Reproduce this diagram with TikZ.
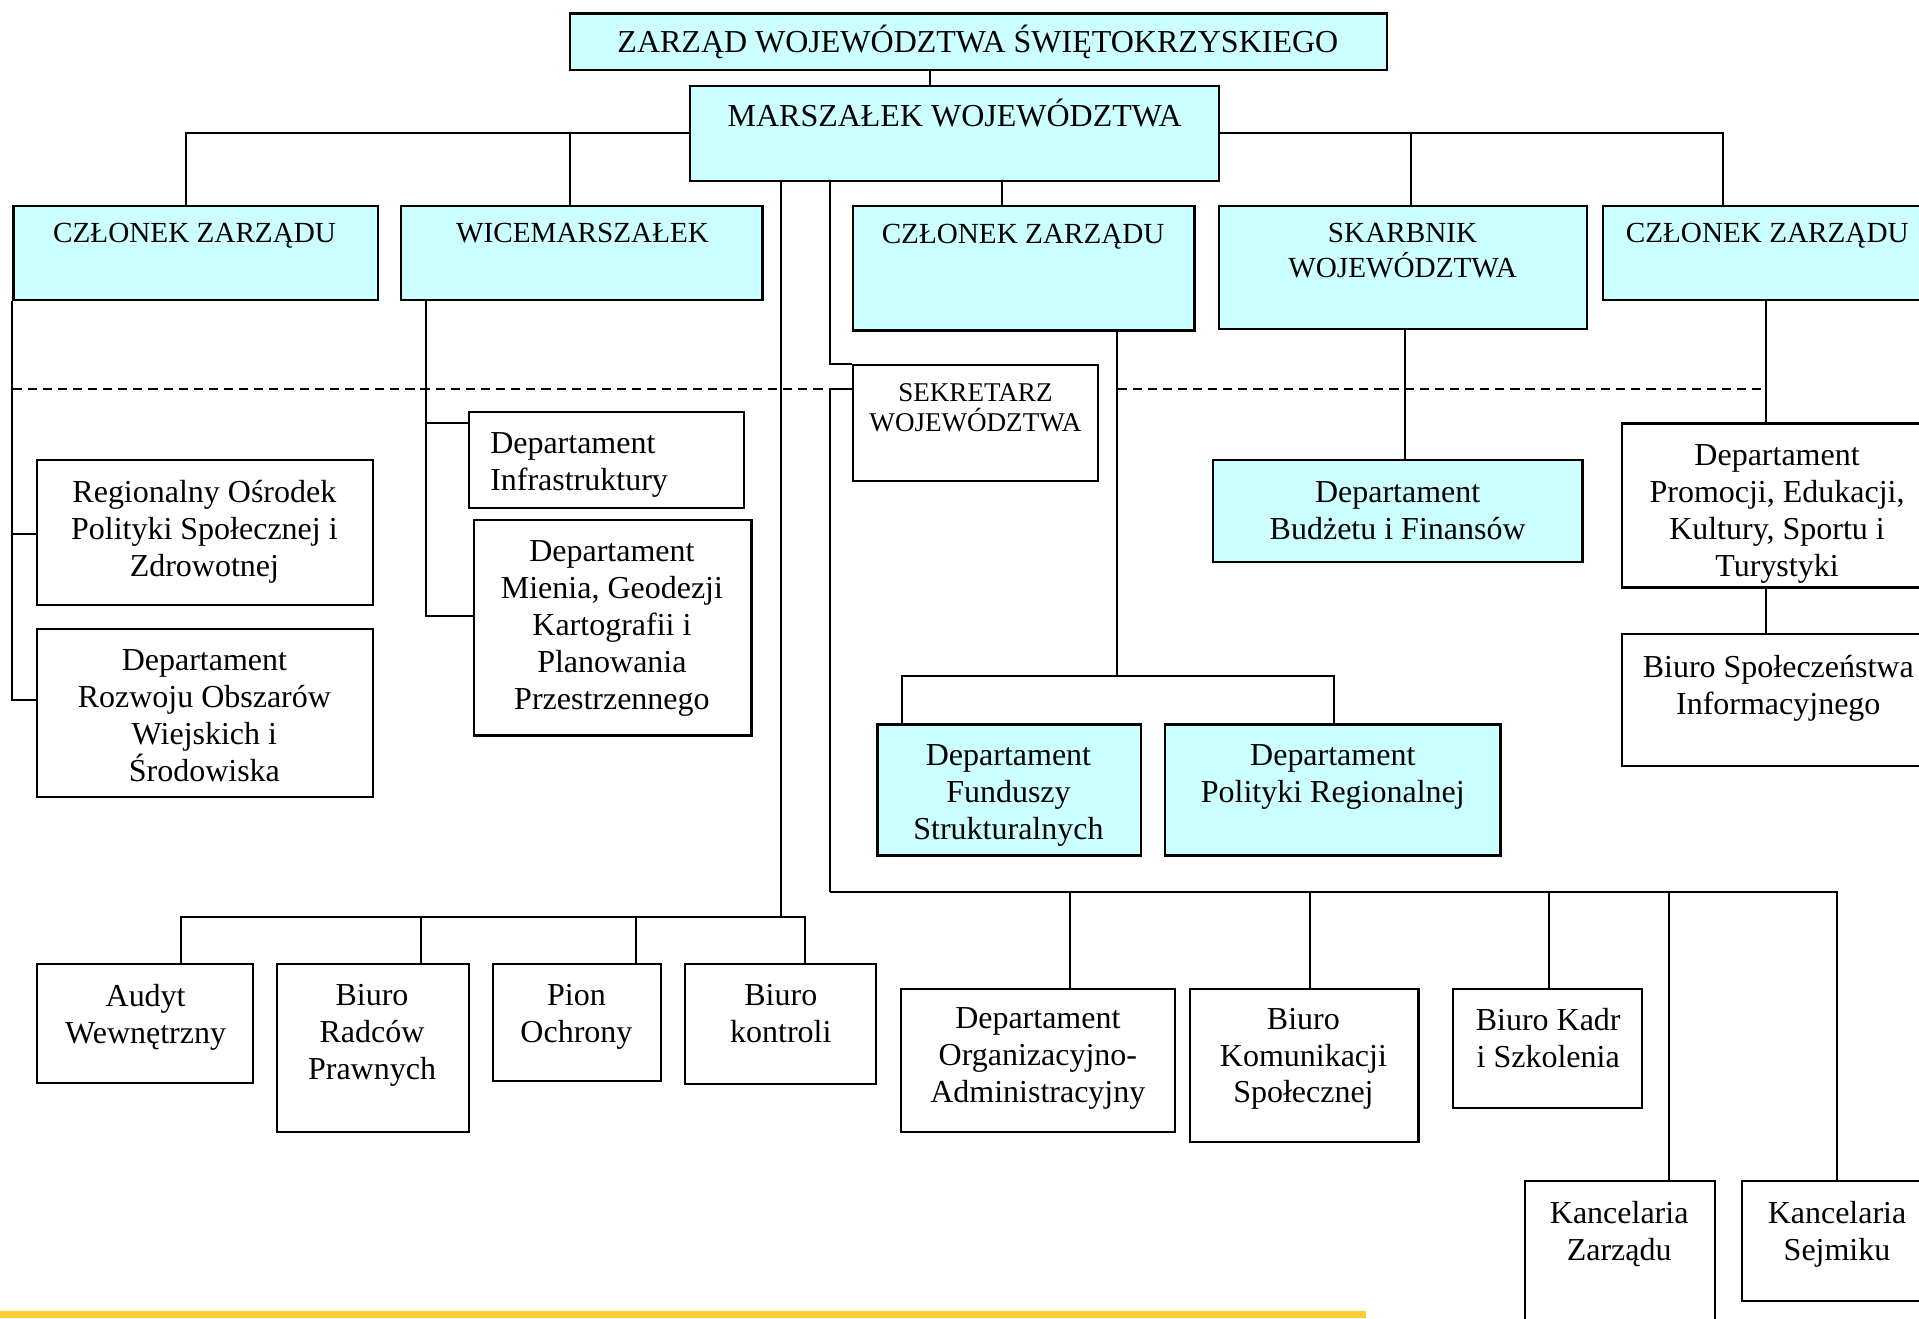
\documentclass[tikz,border=0pt]{standalone}
\usepackage{fontspec}
\setmainfont{Liberation Serif}
\usetikzlibrary{fit}

\definecolor{boxcyan}{HTML}{CCFFFF}
\definecolor{baryellow}{HTML}{FFCC33}

\newcommand{\mainsize}{\fontsize{9.1}{10.5}\selectfont}
\newcommand{\headsize}{\fontsize{8.3}{9.75}\selectfont}
\newcommand{\sekrsize}{\fontsize{7.7}{8.4}\selectfont}

\tikzset{
	cbox/.style={draw, fill=boxcyan, inner sep=0pt, line width=0.6pt},
	wbox/.style={draw, fill=white, inner sep=0pt, line width=0.6pt},
	txt/.style={anchor=north, align=center, inner sep=0pt, font=\mainsize},
	head/.style={txt, font=\headsize},
	link/.style={line width=0.55pt},
	sep/.style={line width=0.55pt, dash pattern=on 2.6pt off 1.7pt}
}

\begin{document}
\begin{tikzpicture}[x=0.012239cm, y=-0.012239cm]
			\path[use as bounding box, clip] (0,0) rectangle (1568,1077);

			% board and marshal
			\node[cbox, fit={(466,11) (1133,57)}] (zarzad) {};
			\node[cbox, fit={(564,70) (996,148)}] (marsz) {};
			\node[cbox, fit={(11,168) (309,245)}] (czl1) {};
			\node[cbox, fit={(328,168) (623,245)}] (wice) {};
			\node[cbox, fit={(697,168) (976,270)}] (czl2) {};
			\node[cbox, fit={(996,168) (1297,269)}] (skarb) {};
			\node[cbox, fit={(1310,168) (1580,245)}] (czl3) {};
			\node[wbox, fit={(697,298) (897,393)}] (sekr) {};

			% departments
			\node[wbox, fit={(30,376) (305,494)}] (rops) {};
			\node[wbox, fit={(30,514) (305,651)}] (rozw) {};
			\node[wbox, fit={(383,337) (608,415)}] (infra) {};
			\node[wbox, fit={(387,425) (614,601)}] (mienie) {};
			\node[cbox, fit={(991,376) (1293,459)}] (budz) {};
			\node[wbox, fit={(1325,346) (1580,480)}] (promo) {};
			\node[wbox, fit={(1325,518) (1580,626)}] (bspol) {};
			\node[cbox, fit={(717,592) (932,699)}] (fund) {};
			\node[cbox, fit={(952,592) (1226,699)}] (polreg) {};

			% offices
			\node[wbox, fit={(30,788) (207,885)}] (audyt) {};
			\node[wbox, fit={(226,788) (383,925)}] (radcy) {};
			\node[wbox, fit={(403,788) (540,883)}] (pion) {};
			\node[wbox, fit={(560,788) (716,886)}] (kontr) {};
			\node[wbox, fit={(736,808) (960,925)}] (org) {};
			\node[wbox, fit={(972,808) (1159,933)}] (komun) {};
			\node[wbox, fit={(1187,808) (1342,905)}] (kadr) {};
			\node[wbox, fit={(1246,965) (1401,1100)}] (kz) {};
			\node[wbox, fit={(1423,965) (1580,1063)}] (ks) {};

			% texts
			\node[txt] (zarzadt) at (799,20) {ZARZĄD WOJEWÓDZTWA ŚWIĘTOKRZYSKIEGO};
			\node[txt] (marszt) at (780,80) {MARSZAŁEK WOJEWÓDZTWA};
			\node[head] (czl1t) at (159,182) {CZŁONEK ZARZĄDU};
			\node[head] (wicet) at (476,182) {WICEMARSZAŁEK};
			\node[head] (czl2t) at (836,183) {CZŁONEK ZARZĄDU};
			\node[head] (skarbt) at (1146,182) {SKARBNIK\\WOJEWÓDZTWA};
			\node[head] (czl3t) at (1444,182) {CZŁONEK ZARZĄDU};
			\node[txt, font=\sekrsize] (sekrt) at (797,313) {SEKRETARZ\\WOJEWÓDZTWA};
			\node[txt] (ropst) at (167,392) {Regionalny Ośrodek\\Polityki Społecznej i\\Zdrowotnej};
			\node[txt] (rozwt) at (167,530) {Departament\\Rozwoju Obszarów\\Wiejskich i\\Środowiska};
			\node[txt, anchor=north west, align=left] (infrat) at (400,353) {Departament\\Infrastruktury};
			\node[txt] (mieniet) at (500,441) {Departament\\Mienia, Geodezji\\Kartografii i\\Planowania\\Przestrzennego};
			\node[txt] (budzt) at (1142,393) {Departament\\Budżetu i Finansów};
			\node[txt] (promot) at (1452,363) {Departament\\Promocji, Edukacji,\\Kultury, Sportu i\\Turystyki};
			\node[txt] (bspolt) at (1453,535) {Biuro Społeczeństwa\\Informacyjnego};
			\node[txt] (fundt) at (824,608) {Departament\\Funduszy\\Strukturalnych};
			\node[txt] (polregt) at (1089,608) {Departament\\Polityki Regionalnej};
			\node[txt] (audytt) at (119,804) {Audyt\\Wewnętrzny};
			\node[txt] (radcyt) at (304,804) {Biuro\\Radców\\Prawnych};
			\node[txt] (piont) at (471,804) {Pion\\Ochrony};
			\node[txt] (kontrt) at (638,804) {Biuro\\kontroli};
			\node[txt] (orgt) at (848,823) {Departament\\Organizacyjno-\\Administracyjny};
			\node[txt] (komunt) at (1065,823) {Biuro\\Komunikacji\\Społecznej};
			\node[txt] (kadrt) at (1265,823) {Biuro Kadr\\i Szkolenia};
			\node[txt] (kzt) at (1323,981) {Kancelaria\\Zarządu};
			\node[txt] (kst) at (1501,981) {Kancelaria\\Sejmiku};

			% bus levels
			\coordinate (busT) at (0,109);
			\coordinate (sepline) at (0,318);
			\coordinate (busM) at (0,552);
			\coordinate (busR) at (0,729);
			\coordinate (busL) at (0,749);

			% top connections
			\draw[link] (zarzad.south -| 760,0) -- (marsz.north -| 760,0);
			\draw[link] (marsz.west |- busT) -| (czl1.north -| 152,0);
			\draw[link] (marsz.west |- busT) -| (wice.north -| 466,0);
			\draw[link] (marsz.east |- busT) -| (czl3.north -| 1408,0);
			\draw[link] (marsz.east |- busT) -| (skarb.north -| 1153,0);
			\draw[link] (marsz.south -| 819,0) -- (czl2.north -| 819,0);
			\draw[link] (marsz.south -| 678,0) |- (sekr.north west);
			\draw[link] (sekr.west |- sepline) -| (busR -| 678,0);

			% dashed separator
			\draw[sep] (czl1.south west |- sepline) -- (sepline -| 678,0);
			\draw[sep] (sepline -| 913,0) -- (sepline -| 1443,0);

			% members and their departments
			\draw[link] (czl1.south west) |- (rops.west |- 0,436);
			\draw[link] (czl1.south west) |- (rozw.west |- 0,572);
			\draw[link] (wice.south -| 348,0) |- (infra.west |- 0,346);
			\draw[link] (wice.south -| 348,0) |- (mienie.west |- 0,503);
			\draw[link] (czl2.south -| 913,0) -- (busM -| 913,0);
			\draw[link] (fund.north -| 737,0) |- (busM -| 1090,0) -- (polreg.north -| 1090,0);
			\draw[link] (skarb.south -| 1148,0) -- (budz.north -| 1148,0);
			\draw[link] (czl3.south -| 1443,0) -- (promo.north -| 1443,0);
			\draw[link] (promo.south -| 1443,0) -- (bspol.north -| 1443,0);

			% marshal's offices
			\draw[link] (marsz.south -| 638,0) -- (busL -| 638,0);
			\draw[link] (audyt.north -| 148,0) |- (busL -| 658,0) -- (kontr.north -| 658,0);
			\draw[link] (radcy.north -| 344,0) -- (busL -| 344,0);
			\draw[link] (pion.north -| 520,0) -- (busL -| 520,0);

			% secretary's offices
			\draw[link] (busR -| 678,0) -- (busR -| 1501,0) -- (ks.north -| 1501,0);
			\draw[link] (busR -| 874,0) -- (org.north -| 874,0);
			\draw[link] (busR -| 1070,0) -- (komun.north -| 1070,0);
			\draw[link] (busR -| 1266,0) -- (kadr.north -| 1266,0);
			\draw[link] (busR -| 1364,0) -- (kz.north -| 1364,0);

			\fill[baryellow] (0,1071) rectangle (1116,1077);
		\end{tikzpicture}
\end{document}
